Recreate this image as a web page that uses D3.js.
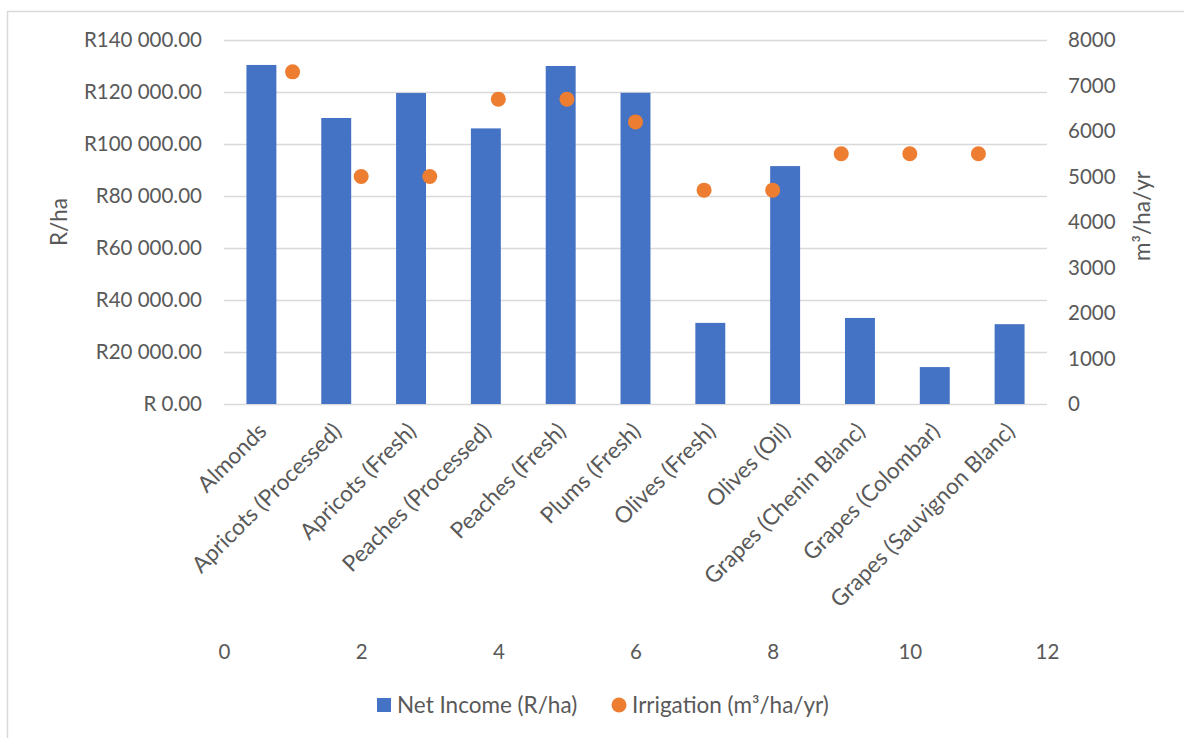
<!DOCTYPE html>
<html>
<head>
<meta charset="utf-8">
<script src="https://cdn.jsdelivr.net/npm/d3@7"></script>
<style>
  html, body { margin: 0; padding: 0; background: #fff; }
  svg { display: block; font-family: Lato, "Open Sans", sans-serif; }
</style>
</head>
<body>
<svg id="chart" width="1184" height="738"></svg>
<script>
// Crop categories
const crops = [
  "Almonds", "Apricots (Processed)", "Apricots (Fresh)", "Peaches (Processed)",
  "Peaches (Fresh)", "Plums (Fresh)", "Olives (Fresh)", "Olives (Oil)",
  "Grapes (Chenin Blanc)", "Grapes (Colombar)", "Grapes (Sauvignon Blanc)"
];
// Net income per hectare (Rand)
const netIncome = [130400, 110000, 119600, 106000, 130000, 119700, 31200, 91500, 33100, 14200, 30700];
// Irrigation requirement (m³/ha/yr), plotted against a numeric x position
const irrigationX = [1, 2, 3, 4, 5, 6, 7, 8, 9, 10, 11];
const irrigation = [7300, 5000, 5000, 6700, 6700, 6200, 4700, 4700, 5500, 5500, 5500];
// Axis ticks
const incomeTicks = [0, 20000, 40000, 60000, 80000, 100000, 120000, 140000];
const irrigationTicks = [0, 1000, 2000, 3000, 4000, 5000, 6000, 7000, 8000];
const xValueTicks = [0, 2, 4, 6, 8, 10, 12];

const BLUE = "#4472C4", ORANGE = "#ED7D31", TEXT = "#595959", GRID = "#D9D9D9";
const FS_NUM = "20.5px";   // numeric tick labels
const FS_TXT = "22.5px";   // category labels, titles, legend

const svg = d3.select("#chart");
const plot = { left: 224, right: 1047, top: 40, bottom: 404 };

// Outer chart frame
svg.append("rect")
  .attr("x", 7.5).attr("y", 11.5).attr("width", 1200).attr("height", 760)
  .attr("fill", "#fff").attr("stroke", GRID).attr("stroke-width", 1.5);

const xBand = d3.scaleBand().domain(crops).range([plot.left, plot.right]).paddingInner(0.6).paddingOuter(0.3);
const xVal = d3.scaleLinear().domain([0, 12]).range([plot.left, plot.right]);
const yIncome = d3.scaleLinear().domain([0, 140000]).range([plot.bottom, plot.top]);
const yIrr = d3.scaleLinear().domain([0, 8000]).range([plot.bottom, plot.top]);

const fmtRand = v => {
  if (v === 0) return "R 0.00";
  const s = String(v).replace(/\B(?=(\d{3})+(?!\d))/g, " ");
  return "R" + s + ".00";
};

// Horizontal gridlines
svg.append("g").selectAll("line").data(incomeTicks).join("line")
  .attr("x1", plot.left).attr("x2", plot.right)
  .attr("y1", d => Math.round(yIncome(d)) + 0.5).attr("y2", d => Math.round(yIncome(d)) + 0.5)
  .attr("stroke", GRID).attr("stroke-width", 1.3);

// Left axis (income)
const leftAxis = svg.append("g").attr("transform", `translate(${plot.left - 22},0)`)
  .call(d3.axisLeft(yIncome).tickValues(incomeTicks).tickFormat(fmtRand).tickSize(0).tickPadding(0));
leftAxis.select(".domain").remove();
leftAxis.selectAll("text").attr("fill", TEXT).style("font-size", FS_NUM).style("font-family", "Lato");

// Right axis (irrigation)
const rightAxis = svg.append("g").attr("transform", `translate(${plot.right + 21},0)`)
  .call(d3.axisRight(yIrr).tickValues(irrigationTicks).tickFormat(d3.format("d")).tickSize(0).tickPadding(0));
rightAxis.select(".domain").remove();
rightAxis.selectAll("text").attr("fill", TEXT).style("font-size", FS_NUM).style("font-family", "Lato");

// Bottom numeric axis for the irrigation positions
const bottomAxis = svg.append("g").attr("transform", `translate(0,644)`)
  .call(d3.axisBottom(xVal).tickValues(xValueTicks).tickSize(0).tickPadding(0));
bottomAxis.select(".domain").remove();
bottomAxis.selectAll("text").attr("fill", TEXT).style("font-size", FS_NUM).style("font-family", "Lato");

// Bars
svg.append("g").selectAll("rect").data(crops).join("rect")
  .attr("x", d => xBand(d))
  .attr("width", xBand.bandwidth())
  .attr("y", (d, i) => yIncome(netIncome[i]))
  .attr("height", (d, i) => yIncome(0) - yIncome(netIncome[i]))
  .attr("fill", BLUE);

// Irrigation markers
svg.append("g").selectAll("circle").data(irrigation).join("circle")
  .attr("cx", (d, i) => xVal(irrigationX[i]))
  .attr("cy", d => yIrr(d))
  .attr("r", 7.5)
  .attr("fill", ORANGE);

// Rotated category labels
svg.append("g").selectAll("text").data(crops).join("text")
  .attr("transform", d => `translate(${xBand(d) + xBand.bandwidth() / 2 + 1},${427}) rotate(-45)`)
  .attr("text-anchor", "end")
  .attr("dy", "0.35em")
  .attr("fill", TEXT)
  .style("font-size", FS_TXT)
  .text(d => d);

// Axis titles
svg.append("text")
  .attr("transform", `translate(59,222) rotate(-90)`)
  .attr("text-anchor", "middle").attr("dy", "0.35em")
  .attr("fill", TEXT).style("font-size", FS_TXT)
  .text("R/ha");
svg.append("text")
  .attr("transform", `translate(1142,216) rotate(-90)`)
  .attr("text-anchor", "middle").attr("dy", "0.35em")
  .attr("fill", TEXT).style("font-size", FS_TXT)
  .text("m³/ha/yr");

// Legend
const legend = svg.append("g");
legend.append("rect").attr("x", 377).attr("y", 698).attr("width", 14).attr("height", 14).attr("fill", BLUE);
legend.append("text").attr("x", 397).attr("y", 705).attr("dy", "0.35em")
  .attr("fill", TEXT).style("font-size", FS_TXT).text("Net Income (R/ha)");
legend.append("circle").attr("cx", 619).attr("cy", 705).attr("r", 7.5).attr("fill", ORANGE);
legend.append("text").attr("x", 632).attr("y", 705).attr("dy", "0.35em")
  .attr("fill", TEXT).style("font-size", FS_TXT).text("Irrigation (m³/ha/yr)");
</script>
</body>
</html>
